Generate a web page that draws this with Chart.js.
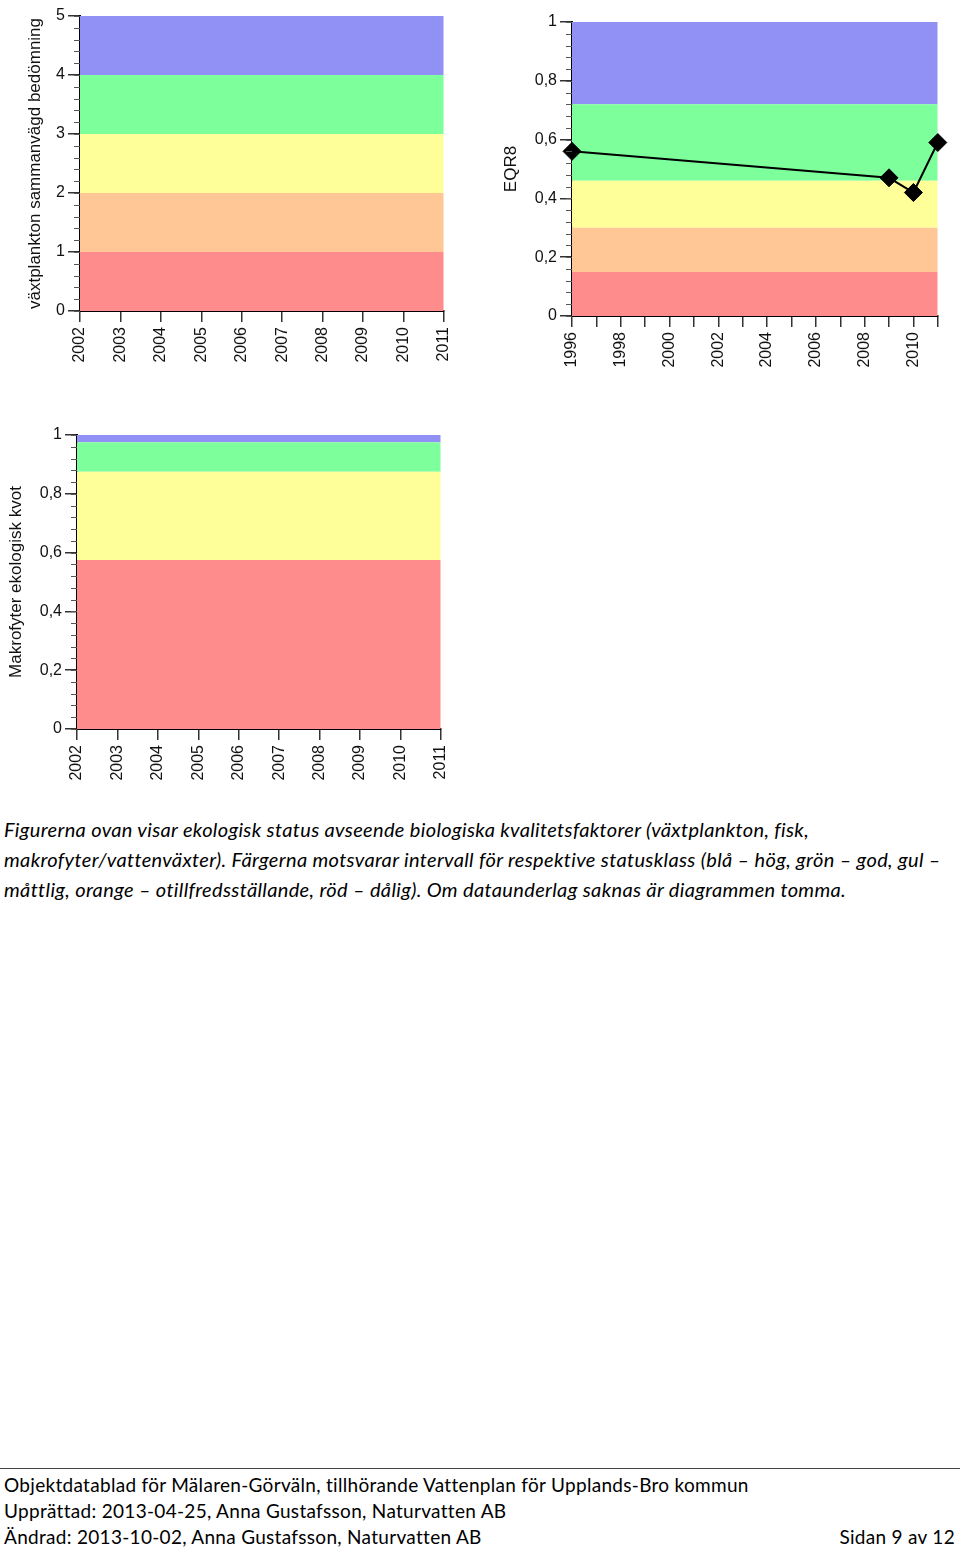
<!DOCTYPE html>
<html lang="sv">
<head>
<meta charset="utf-8">
<title>Ekologisk status</title>
<script src="https://cdn.jsdelivr.net/npm/chart.js@4.4.1/dist/chart.umd.min.js"></script>
<style>
    body { margin: 0; background: #fff; width: 960px; height: 1549px; position: relative; overflow: hidden; }
    .box { position: absolute; }
    .caption { position: absolute; left: 4px; top: 814px; font-family: Lato, sans-serif; font-style: italic; font-size: 20px; letter-spacing: 0.35px; line-height: 30px; color: #000; white-space: nowrap; }
    .rule { position: absolute; left: 0; top: 1468px; width: 960px; height: 1px; background: #444; }
    .footer { position: absolute; left: 4px; top: 1472px; width: 951px; font-family: Lato, sans-serif; font-size: 19px; letter-spacing: 0.3px; line-height: 26px; color: #000; white-space: nowrap; }
    .footer .right { position: absolute; right: 0; bottom: 0; }
</style>
</head>
<body>

<div class="box" style="left:0; top:0; width:468px; height:380px;"><canvas id="planktonChart"></canvas></div>
<div class="box" style="left:490px; top:0; width:472px; height:380px;"><canvas id="fishChart"></canvas></div>
<div class="box" style="left:0; top:420px; width:465px; height:380px;"><canvas id="macroChart"></canvas></div>

<div class="caption">
    <div>Figurerna ovan visar ekologisk status avseende biologiska kvalitetsfaktorer (växtplankton, fisk,</div>
    <div>makrofyter/vattenväxter). Färgerna motsvarar intervall för respektive statusklass (blå – hög, grön – god, gul –</div>
    <div>måttlig, orange – otillfredsställande, röd – dålig). Om dataunderlag saknas är diagrammen tomma.</div>
</div>

<div class="rule"></div>
<div class="footer">
    <div>Objektdatablad för Mälaren-Görväln, tillhörande Vattenplan för Upplands-Bro kommun</div>
    <div>Upprättad: 2013-04-25, Anna Gustafsson, Naturvatten AB</div>
    <div>Ändrad: 2013-10-02, Anna Gustafsson, Naturvatten AB<span class="right">Sidan 9 av 12</span></div>
</div>

<script>
// status classes, bottom to top: röd, orange, gul, grön, blå
const STATUS_COLORS = ['#FF8C8C', '#FFC696', '#FFFF99', '#7DFF9B', '#9191F5'];

// class limits for each diagram (bottom of röd ... top of blå)
const PLANKTON_LIMITS = [0, 1, 2, 3, 4, 5];
const FISH_LIMITS = [0, 0.15, 0.30, 0.46, 0.72, 1];
const MACRO_LIMITS = [0, 0.575, 0.575, 0.875, 0.975, 1];

// x axis years
const PLANKTON_YEARS = [2002, 2003, 2004, 2005, 2006, 2007, 2008, 2009, 2010, 2011];
const FISH_YEARS = [1996, 1997, 1998, 1999, 2000, 2001, 2002, 2003, 2004, 2005, 2006, 2007, 2008, 2009, 2010, 2011];
const MACRO_YEARS = [2002, 2003, 2004, 2005, 2006, 2007, 2008, 2009, 2010, 2011];

// EQR8 (fisk) measurements
const EQR8_YEARS = [1996, 2009, 2010, 2011];
const EQR8_VALUES = [0.56, 0.47, 0.42, 0.59];

const FONT = 'Liberation Sans, Arial, sans-serif';

// short unlabelled ticks between the major ones on the y axis
const minorTicks = {
    id: 'minorTicks',
    afterDraw(chart, args, opts) {
        const y = chart.scales.y;
        const ctx = chart.ctx;
        const n = Math.round((y.max - y.min) / opts.step);
        ctx.save();
        ctx.strokeStyle = '#555';
        ctx.lineWidth = 1;
        ctx.beginPath();
        for (let i = 0; i <= n; i++) {
            const py = Math.round(y.getPixelForValue(y.min + i * opts.step)) + 0.5;
            ctx.moveTo(y.right - opts.length, py);
            ctx.lineTo(y.right, py);
        }
        ctx.stroke();
        ctx.restore();
    }
};

function commaLabel(value) {
    if (value === 0 || value === 1) return String(value);
    return value.toFixed(1).replace('.', ',');
}

function bandDatasets(limits, years) {
    const first = years[0];
    const last = years[years.length - 1];
    const sets = [];
    for (let i = 0; i < STATUS_COLORS.length; i++) {
        sets.push({
            data: [{ x: first, y: limits[i + 1] }, { x: last, y: limits[i + 1] }],
            fill: { value: limits[i] },
            backgroundColor: STATUS_COLORS[i],
            borderWidth: 0,
            pointRadius: 0,
            order: 10
        });
    }
    return sets;
}

function makeChart(id, cfg) {
    const datasets = bandDatasets(cfg.limits, cfg.years);
    if (cfg.series) datasets.unshift(cfg.series);

    return new Chart(document.getElementById(id), {
        type: 'line',
        data: { datasets: datasets },
        plugins: [minorTicks],
        options: {
            responsive: true,
            maintainAspectRatio: false,
            animation: false,
            layout: { padding: cfg.padding },
            plugins: {
                legend: { display: false },
                tooltip: { enabled: false },
                minorTicks: { step: cfg.minorStep, length: 6 }
            },
            scales: {
                x: {
                    type: 'linear',
                    min: cfg.years[0],
                    max: cfg.years[cfg.years.length - 1],
                    afterBuildTicks: function(axis) {
                        axis.ticks = cfg.years.map(v => ({ value: v }));
                    },
                    afterFit: function(axis) { axis.height = cfg.xHeight; },
                    border: { display: true, color: '#000', width: 2 },
                    grid: { drawOnChartArea: false, drawTicks: true, tickLength: 11, color: '#333', lineWidth: 1.5 },
                    ticks: {
                        autoSkip: false,
                        minRotation: 90,
                        maxRotation: 90,
                        padding: 5,
                        color: '#111',
                        font: { family: FONT, size: 16 },
                        callback: cfg.xLabel || (v => String(v))
                    }
                },
                y: {
                    min: cfg.limits[0],
                    max: cfg.limits[cfg.limits.length - 1],
                    afterFit: function(axis) { axis.width = cfg.yWidth; },
                    border: { display: true, color: '#000', width: 2 },
                    grid: { drawOnChartArea: false, drawTicks: true, tickLength: 12, color: '#333', lineWidth: 1.5 },
                    ticks: {
                        stepSize: cfg.majorStep,
                        padding: 3,
                        color: '#111',
                        font: { family: FONT, size: 16 },
                        callback: cfg.yLabel
                    },
                    title: {
                        display: true,
                        text: cfg.title,
                        color: '#111',
                        font: { family: FONT, size: 17, lineHeight: 1.2 },
                        padding: { top: cfg.titlePad, bottom: 0 }
                    }
                }
            }
        }
    });
}

window.onload = function() {
    makeChart('planktonChart', {
        limits: PLANKTON_LIMITS,
        years: PLANKTON_YEARS,
        title: 'växtplankton sammanvägd bedömning',
        titlePad: 25,
        majorStep: 1,
        minorStep: 0.2,
        yLabel: v => String(v),
        yWidth: 80,
        xHeight: 69,
        padding: { left: 0, top: 16, right: 0, bottom: 0 }
    });

    makeChart('fishChart', {
        limits: FISH_LIMITS,
        years: FISH_YEARS,
        title: 'EQR8',
        titlePad: 11,
        majorStep: 0.2,
        minorStep: 0.04,
        yLabel: commaLabel,
        xLabel: v => (v % 2 === 0 ? String(v) : ''),
        yWidth: 82,
        xHeight: 64,
        padding: { left: 0, top: 22, right: 0, bottom: 0 },
        series: {
            data: EQR8_YEARS.map((yr, i) => ({ x: yr, y: EQR8_VALUES[i] })),
            borderColor: '#000',
            borderWidth: 2,
            backgroundColor: '#000',
            pointStyle: 'rectRot',
            pointRadius: 9,
            pointBorderWidth: 1,
            fill: false,
            clip: false,
            tension: 0,
            order: 0
        }
    });

    makeChart('macroChart', {
        limits: MACRO_LIMITS,
        years: MACRO_YEARS,
        title: 'Makrofyter ekologisk kvot',
        titlePad: 6,
        majorStep: 0.2,
        minorStep: 0.04,
        yLabel: commaLabel,
        yWidth: 77,
        xHeight: 71,
        padding: { left: 0, top: 15, right: 0, bottom: 0 }
    });
};
</script>
</body>
</html>
